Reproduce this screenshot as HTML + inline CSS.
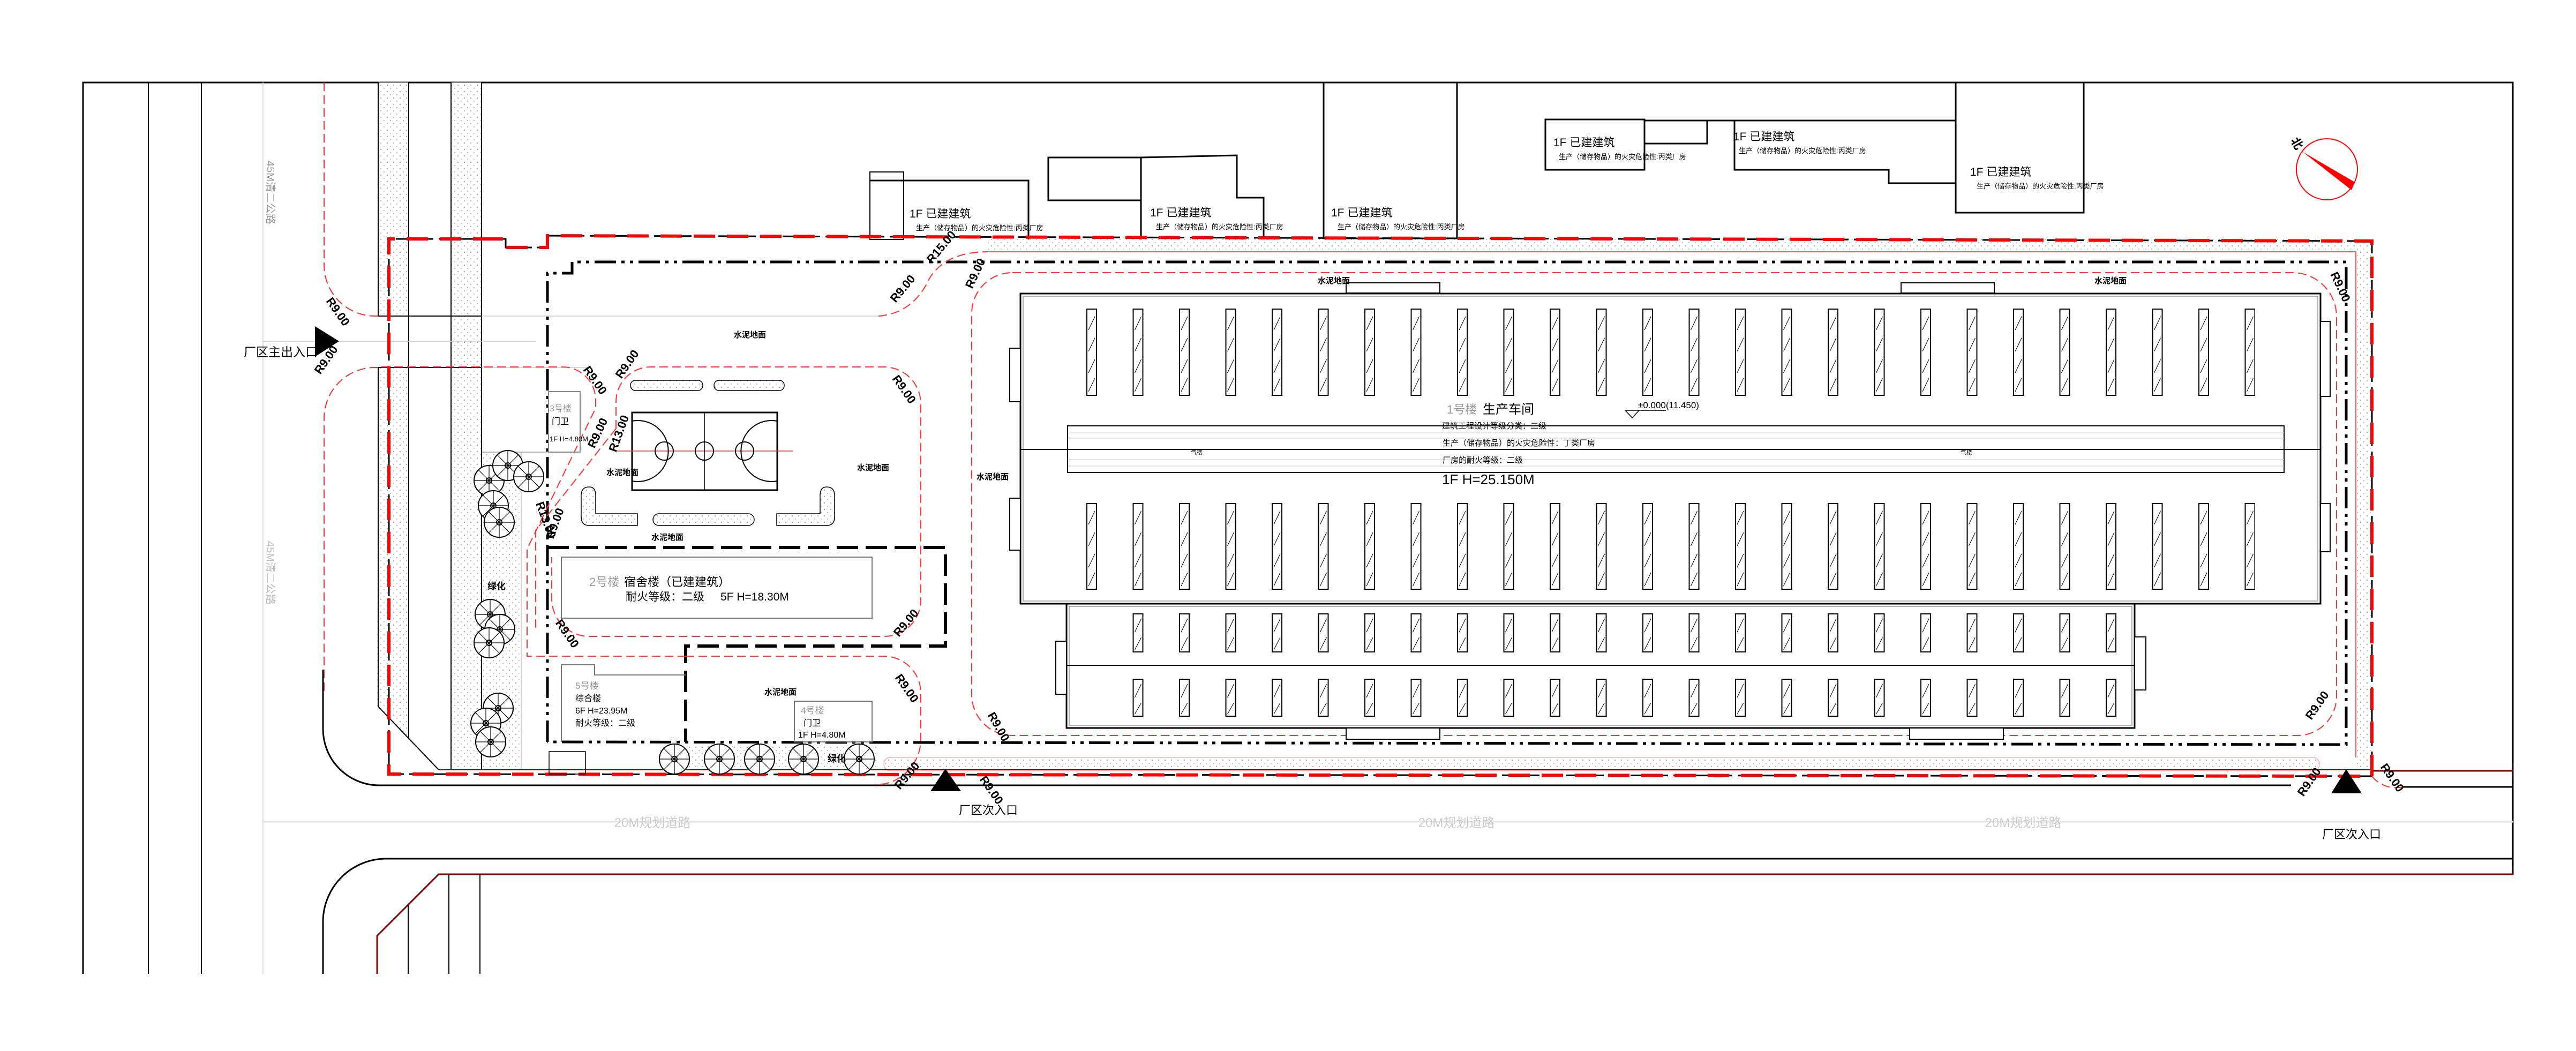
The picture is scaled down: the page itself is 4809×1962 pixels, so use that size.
<!DOCTYPE html>
<html><head><meta charset="utf-8"><style>
html,body{margin:0;padding:0;background:#fff}
svg{display:block}
text{font-family:"Liberation Sans","Noto Sans CJK SC",sans-serif}
.cj{font-family:"Liberation Sans","Noto Sans CJK SC",sans-serif}
.r{font-weight:bold;font-size:22px}
.g{fill:#999}
</style></head><body>
<svg width="4809" height="1962" viewBox="0 0 4809 1962" xmlns="http://www.w3.org/2000/svg">
<defs>
<pattern id="st" width="12" height="12" patternUnits="userSpaceOnUse"><rect width="12" height="12" fill="#fff"/><circle cx="3" cy="3" r="1" fill="#888"/><circle cx="9" cy="9" r="1" fill="#aaa"/></pattern>
<pattern id="s1" x="2028" y="576" width="86.5" height="163" patternUnits="userSpaceOnUse"><rect x="1" y="1" width="18" height="161" fill="#fff" stroke="#000" stroke-width="2"/><path d="M4 40 L16 15 M4 80 L16 55 M4 120 L16 95 M4 155 L16 130" stroke="#000" stroke-width="1"/></pattern>
<pattern id="s2" x="2028" y="939" width="86.5" height="162" patternUnits="userSpaceOnUse"><rect x="1" y="1" width="18" height="160" fill="#fff" stroke="#000" stroke-width="2"/><path d="M4 40 L16 15 M4 80 L16 55 M4 120 L16 95 M4 155 L16 130" stroke="#000" stroke-width="1"/></pattern>
<pattern id="s3" x="2114.5" y="1145" width="86.5" height="73" patternUnits="userSpaceOnUse"><rect x="1" y="1" width="18" height="71" fill="#fff" stroke="#000" stroke-width="2"/><path d="M4 35 L16 10 M4 68 L16 45" stroke="#000" stroke-width="1"/></pattern>
<pattern id="s4" x="2114.5" y="1267" width="86.5" height="71" patternUnits="userSpaceOnUse"><rect x="1" y="1" width="18" height="69" fill="#fff" stroke="#000" stroke-width="2"/><path d="M4 35 L16 10 M4 66 L16 45" stroke="#000" stroke-width="1"/></pattern>
<g id="tree"><circle r="28" fill="#fff" stroke="#000" stroke-width="2"/><path d="M0 -28 L0 28 M-28 0 L28 0 M-20 -20 L20 20 M-20 20 L20 -20" stroke="#000" stroke-width="1.2"/><circle r="5" fill="none" stroke="#000" stroke-width="2"/></g>
</defs>
<rect width="4809" height="1962" fill="#fff"/>

<!-- frame & left roads -->
<path d="M155 1818 V154 H4691 V1634" fill="none" stroke="#000" stroke-width="3"/>
<path d="M277 154 V1818 M376 154 V1818" stroke="#000" stroke-width="2"/>
<path d="M491 154 V1818" stroke="#ddd" stroke-width="2"/>
<text x="0" y="0" transform="translate(498,300) rotate(90)" font-size="20" class="g" fill="#bbb">45M清二公路</text>
<text x="0" y="0" transform="translate(498,1010) rotate(90)" font-size="20" fill="#bbb">45M清二公路</text>

<!-- stipple bands -->
<rect x="706" y="154" width="57" height="436" fill="url(#st)"/>
<polygon points="706,686 763,686 763,1380 704,1319" fill="url(#st)"/>
<rect x="842" y="154" width="57" height="1283" fill="url(#st)"/>
<rect x="899" y="844" width="74" height="593" fill="url(#st)"/>
<rect x="1230" y="1390" width="410" height="47" fill="url(#st)"/>
<rect x="1650" y="1414" width="2680" height="25" rx="12" fill="url(#st)" stroke="#f88" stroke-width="1"/>
<rect x="1845" y="447" width="2583" height="23" fill="url(#st)"/>
<rect x="4400" y="447" width="28" height="992" fill="url(#st)"/>
<path d="M706 154 V590 M763 154 V1380 M842 154 V1437 M899 154 V1437 M706 686 V1319 L819 1437" fill="none" stroke="#000" stroke-width="2"/>
<path d="M706 590 H899 M706 686 H899" stroke="#000" stroke-width="2"/>
<path d="M899 590 H1650 M899 686 H1100 M973 844 V1437 M491 637 H1000" stroke="#ccc" stroke-width="1.5"/>
<path d="M899 844 H1022" stroke="#999" stroke-width="1.5"/>

<!-- outer road edges -->
<path d="M605 154 V495 A95 95 0 0 0 700 590 H706" fill="none" stroke="#e33" stroke-width="2" stroke-dasharray="16 8"/>
<path d="M706 686 H700 A95 95 0 0 0 605 781 V1290" fill="none" stroke="#e33" stroke-width="2" stroke-dasharray="16 8"/>
<path d="M603 1250 V1360 A105 105 0 0 0 708 1466 H4277 M4485 1469 H4692" fill="none" stroke="#000" stroke-width="3"/>
<path d="M4428 1439 H4692" stroke="#800" stroke-width="3"/>
<path d="M819 1437 H4428" stroke="#800" stroke-width="2"/>
<path d="M603 1818 V1723 A118 118 0 0 1 721 1603 H4692" fill="none" stroke="#000" stroke-width="3"/>
<path d="M704 1818 V1747 L819 1632 H4692" fill="none" stroke="#800" stroke-width="3"/>
<path d="M762 1690 V1818 M838 1632 V1818 M896 1632 V1818" stroke="#000" stroke-width="2"/>
<path d="M491 1534 H4692" stroke="#e6e6e6" stroke-width="3"/>
<text x="1218" y="1544" font-size="24" fill="#ccc" text-anchor="middle">20M规划道路</text>
<text x="2719" y="1544" font-size="24" fill="#ccc" text-anchor="middle">20M规划道路</text>
<text x="3777" y="1544" font-size="24" fill="#ccc" text-anchor="middle">20M规划道路</text>

<!-- top existing buildings -->
<g fill="none" stroke="#000" stroke-width="3">
<rect x="1624" y="321" width="63" height="126" stroke-width="2"/>
<path d="M1624 337 H1920 V447"/>
<rect x="1957" y="294" width="173" height="80"/>
<path d="M2130 447 V294 L2309 290 V369 H2359 V445"/>
<path d="M2471 154 V445 H2720 V154"/>
<rect x="2885" y="223" width="185" height="94"/>
<path d="M3070 225 H3238 M3070 268 H3187 V225"/>
<path d="M3238 225 V317 H3526 V342 H3651 V225 H3238"/>
<path d="M3651 154 V397 H3890 V154"/>
</g>
<g font-size="21">
<text x="1698" y="406">1F 已建建筑</text><text x="2147" y="404">1F 已建建筑</text><text x="2485" y="404">1F 已建建筑</text>
<text x="2900" y="273">1F 已建建筑</text><text x="3236" y="262">1F 已建建筑</text><text x="3678" y="328">1F 已建建筑</text>
</g>
<g font-size="13">
<text x="1710" y="430">生产（储存物品）的火灾危险性:丙类厂房</text>
<text x="2158" y="428">生产（储存物品）的火灾危险性:丙类厂房</text>
<text x="2497" y="428">生产（储存物品）的火灾危险性:丙类厂房</text>
<text x="2910" y="297">生产（储存物品）的火灾危险性:丙类厂房</text>
<text x="3246" y="286">生产（储存物品）的火灾危险性:丙类厂房</text>
<text x="3690" y="352">生产（储存物品）的火灾危险性:丙类厂房</text>
</g>

<!-- north arrow -->
<circle cx="4344" cy="316" r="57" fill="none" stroke="#f00" stroke-width="2"/>
<polygon points="4298,283 4396,340 4390,355" fill="#f00"/>
<text x="0" y="0" transform="translate(4276,262) rotate(60)" font-size="22" font-weight="bold">北</text>

<!-- site boundary -->
<path d="M899 446 H944 V462 H1022 V440 L4428 450 V1449 L726 1445 V446 H899" fill="none" stroke="#000" stroke-width="3" stroke-dasharray="30 10"/>
<path d="M899 446 H944 V462 H1022 V440 L4428 450 V1449 L726 1445 V446 H899" fill="none" stroke="#f00" stroke-width="6" stroke-dasharray="40 22"/>
<path d="M1845 470 H4398 V1414" fill="none" stroke="#f55" stroke-width="2"/>
<!-- dash-dot building line -->
<path d="M1022 1385 V510 H1068 V489 H4380 V1390 L1022 1385" fill="none" stroke="#000" stroke-width="5" stroke-dasharray="40 10 6 10 6 10"/>
<path d="M1022 1022 H1765 V1206 H1280 V1385" fill="none" stroke="#000" stroke-width="6" stroke-dasharray="40 14"/>

<!-- inner road red dashed -->
<g fill="none" stroke="#f33" stroke-width="2" stroke-dasharray="16 8">
<path d="M1640 590 Q1705 585 1735 520 Q1765 470 1845 470"/>
<path d="M1890 509 H4280 A82 82 0 0 1 4362 591 V1300 A73 73 0 0 1 4289 1373 H1890 A76 76 0 0 1 1814 1297 V585 A76 76 0 0 1 1890 509 Z"/>
<path d="M1150 800 V750 A65 65 0 0 1 1215 685 H1650 A69 69 0 0 1 1719 754 V1120 A68 68 0 0 1 1651 1188 H1100 A70 70 0 0 1 1030 1118 V1040"/>
<path d="M1150 800 L1000 990 V1180"/>
<path d="M712 685 H1050 A62 62 0 0 1 1112 747 V762 L984 1025 V1225 H1280"/>
<path d="M1280 1225 H1650 A69 69 0 0 1 1719 1294 V1380 A85 85 0 0 1 1634 1465"/>
<path d="M4428 1449 A57 57 0 0 0 4485 1469"/>
</g>

<!-- court area -->
<rect x="1180" y="770" width="271" height="145" fill="#fff" stroke="#000" stroke-width="3"/>
<path d="M1150 842 H1480" stroke="#f33" stroke-width="1.5"/>
<path d="M1315 770 V915" stroke="#000" stroke-width="1.5"/>
<circle cx="1315" cy="842" r="17" fill="none" stroke="#000" stroke-width="2"/>
<path d="M1180 786 A57 57 0 1 1 1180 898 M1451 786 A57 57 0 1 0 1451 898" fill="none" stroke="#000" stroke-width="2"/>
<circle cx="1240" cy="842" r="17" fill="none" stroke="#000" stroke-width="2"/>
<circle cx="1390" cy="842" r="17" fill="none" stroke="#000" stroke-width="2"/>
<g fill="url(#st)" stroke="#000" stroke-width="1.5">
<rect x="1177" y="710" width="135" height="19" rx="9"/>
<rect x="1333" y="710" width="131" height="19" rx="9"/>
<path d="M1085 925 Q1085 909 1100 909 Q1112 909 1112 925 V959 H1190 V981 H1100 Q1085 981 1085 965 Z"/>
<rect x="1219" y="959" width="189" height="22" rx="11"/>
<path d="M1558 925 Q1558 909 1543 909 Q1531 909 1531 925 V959 H1450 V981 H1543 Q1558 981 1558 965 Z"/>
</g>

<!-- buildings 2-5 -->
<rect x="1024" y="731" width="59" height="113" fill="none" stroke="#888" stroke-width="2"/>
<text x="1026" y="768" font-size="16" fill="#999">3号楼</text>
<text x="1030" y="792" font-size="16">门卫</text>
<text x="1026" y="824" font-size="13">1F H=4.80M</text>
<rect x="1048" y="1040" width="580" height="114" fill="none" stroke="#777" stroke-width="2"/>
<text x="1100" y="1094" font-size="22" fill="#999">2号楼</text>
<text x="1165" y="1094" font-size="22">宿舍楼（已建建筑）</text>
<text x="1168" y="1121" font-size="21">耐火等级：二级</text>
<text x="1345" y="1121" font-size="21">5F H=18.30M</text>
<path d="M1048 1385 V1241 H1110 V1260 H1280" fill="none" stroke="#777" stroke-width="2"/>
<text x="1074" y="1286" font-size="17" fill="#999">5号楼</text>
<text x="1074" y="1309" font-size="16">综合楼</text>
<text x="1074" y="1332" font-size="16">6F H=23.95M</text>
<text x="1074" y="1355" font-size="16">耐火等级：二级</text>
<rect x="1483" y="1309" width="145" height="76" fill="none" stroke="#777" stroke-width="2"/>
<text x="1495" y="1332" font-size="17" fill="#999">4号楼</text>
<text x="1500" y="1355" font-size="16">门卫</text>
<text x="1490" y="1377" font-size="16">1F H=4.80M</text>
<rect x="1025" y="1403" width="68" height="42" fill="none" stroke="#000" stroke-width="1.5"/>

<!-- trees -->
<use href="#tree" x="913" y="897"/><use href="#tree" x="948" y="869"/><use href="#tree" x="987" y="890"/><use href="#tree" x="921" y="944"/><use href="#tree" x="932" y="975"/>
<use href="#tree" x="915" y="1147"/><use href="#tree" x="933" y="1175"/><use href="#tree" x="913" y="1200"/>
<use href="#tree" x="930" y="1322"/><use href="#tree" x="907" y="1350"/><use href="#tree" x="916" y="1385"/>
<use href="#tree" x="1259" y="1417"/><use href="#tree" x="1343" y="1417"/><use href="#tree" x="1418" y="1417"/><use href="#tree" x="1500" y="1417"/><use href="#tree" x="1604" y="1417"/>
<text x="910" y="1100" font-size="17" font-weight="bold">绿化</text>
<text x="1545" y="1422" font-size="17" font-weight="bold">绿化</text>

<!-- building 1 -->
<rect x="1905" y="548" width="2427" height="579" fill="#fff" stroke="#000" stroke-width="3"/>
<rect x="1910" y="553" width="2417" height="569" fill="none" stroke="#999" stroke-width="1.5"/>
<rect x="1991" y="1127" width="1994" height="232" fill="#fff" stroke="#000" stroke-width="3"/>
<rect x="1996" y="1132" width="1984" height="222" fill="none" stroke="#999" stroke-width="1.5"/>
<path d="M1905 839 H4332 M1991 1242 H3985" stroke="#000" stroke-width="2"/>
<rect x="1993" y="795" width="2271" height="87" fill="none" stroke="#000" stroke-width="2"/>
<path d="M1993 808 H4264 M1993 818 H4264 M1993 858 H4264 M1993 870 H4264" stroke="#ccc" stroke-width="1"/>
<rect x="2028" y="576" width="2182" height="163" fill="url(#s1)"/>
<rect x="2028" y="939" width="2182" height="162" fill="url(#s2)"/>
<rect x="2114.5" y="1145" width="1837" height="73" fill="url(#s3)"/>
<rect x="2114.5" y="1267" width="1837" height="71" fill="url(#s4)"/>
<g fill="#fff" stroke="#000" stroke-width="2">
<rect x="1885" y="650" width="20" height="100"/><rect x="1885" y="930" width="20" height="97"/>
<rect x="1971" y="1197" width="20" height="99"/><rect x="3985" y="1189" width="21" height="99"/>
<rect x="2513" y="528" width="175" height="19"/><rect x="3549" y="528" width="174" height="19"/>
<rect x="2513" y="1359" width="175" height="21"/><rect x="3565" y="1359" width="175" height="21"/>
<rect x="4332" y="600" width="18" height="140"/><rect x="4332" y="940" width="18" height="90"/>
</g>
<text x="2223" y="848" font-size="11">气楼</text>
<text x="3660" y="848" font-size="11">气楼</text>
<text x="2701" y="772" font-size="22" fill="#999">1号楼</text>
<text x="2768" y="772" font-size="24">生产车间</text>
<text x="3058" y="762" font-size="17">±0.000(11.450)</text>
<path d="M3034 766 H3110 M3034 766 L3047 780 L3060 766" fill="none" stroke="#000" stroke-width="1.5"/>
<text x="2692" y="800" font-size="15">建筑工程设计等级分类：二级</text>
<text x="2693" y="832" font-size="15">生产（储存物品）的火灾危险性：丁类厂房</text>
<text x="2693" y="864" font-size="15">厂房的耐火等级：二级</text>
<text x="2692" y="904" font-size="26">1F H=25.150M</text>

<!-- 水泥地面 labels -->
<g font-size="15" font-weight="bold">
<text x="1370" y="630">水泥地面</text><text x="1132" y="887">水泥地面</text><text x="1600" y="878">水泥地面</text>
<text x="1216" y="1008">水泥地面</text><text x="1427" y="1297">水泥地面</text><text x="2460" y="529">水泥地面</text>
<text x="3910" y="529">水泥地面</text><text x="1823" y="895">水泥地面</text>
</g>

<!-- entrances -->
<polygon points="588,609 633,637 588,666" fill="#000"/>
<text x="455" y="665" font-size="23">厂区主出入口</text>
<polygon points="1765,1435 1737,1477 1794,1477" fill="#000"/>
<text x="1790" y="1520" font-size="22">厂区次入口</text>
<polygon points="4380,1436 4352,1481 4409,1481" fill="#000"/>
<text x="4335" y="1565" font-size="22">厂区次入口</text>

<!-- R labels -->
<g class="r">
<text transform="translate(608,562) rotate(55)">R9.00</text>
<text transform="translate(598,700) rotate(-55)">R9.00</text>
<text transform="translate(1088,690) rotate(55)">R9.00</text>
<text transform="translate(1160,708) rotate(-55)">R9.00</text>
<text transform="translate(1110,838) rotate(-65)">R9.00</text>
<text transform="translate(1150,845) rotate(-70)">R13.00</text>
<text transform="translate(1000,940) rotate(70)">R13.00</text>
<text transform="translate(1033,1007) rotate(-70)">R9.00</text>
<text transform="translate(1672,566) rotate(-50)">R9.00</text>
<text transform="translate(1740,493) rotate(-50)">R15.00</text>
<text transform="translate(1665,707) rotate(55)">R9.00</text>
<text transform="translate(1036,1163) rotate(55)">R9.00</text>
<text transform="translate(1678,1190) rotate(-50)">R9.00</text>
<text transform="translate(1670,1265) rotate(55)">R9.00</text>
<text transform="translate(1680,1475) rotate(-50)">R9.00</text>
<text transform="translate(1828,1455) rotate(55)">R9.00</text>
<text transform="translate(1815,540) rotate(-65)">R9.00</text>
<text transform="translate(1843,1335) rotate(60)">R9.00</text>
<text transform="translate(4315,1345) rotate(-55)">R9.00</text>
<text transform="translate(4300,1488) rotate(-55)">R9.00</text>
<text transform="translate(4443,1432) rotate(55)">R9.00</text>
<text transform="translate(4350,512) rotate(65)">R9.00</text>
</g>
</svg>
</body></html>
